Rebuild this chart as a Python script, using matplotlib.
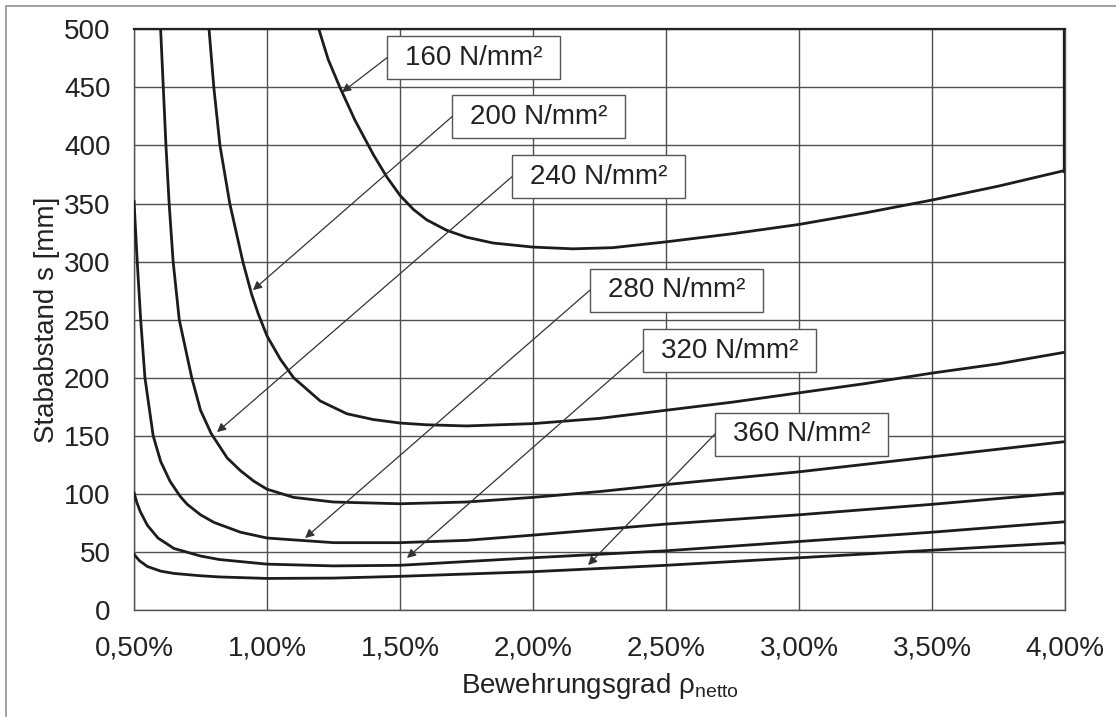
import matplotlib
matplotlib.use("Agg")
import matplotlib.pyplot as plt
from matplotlib.patches import Rectangle

plt.rcParams['font.family'] = ['Liberation Sans', 'DejaVu Sans']
plt.rcParams['mathtext.fontset'] = 'custom'
plt.rcParams['mathtext.rm'] = 'Liberation Sans'

# Stababstand s [mm] over Bewehrungsgrad rho_netto [%]
x_160 = [1.195, 1.23, 1.274, 1.33, 1.40, 1.45, 1.50, 1.55, 1.60, 1.675, 1.75, 1.85, 2.00, 2.15, 2.30, 2.50, 2.75, 3.00, 3.25, 3.50, 3.75, 4.00]
s_160 = [500, 474, 450, 422, 392, 373, 357, 345, 336, 327, 321, 316, 312.5, 311, 312, 317, 324, 332, 342, 353, 365, 378.5]

x_200 = [0.782, 0.80, 0.823, 0.86, 0.909, 0.942, 0.967, 1.00, 1.05, 1.10, 1.20, 1.30, 1.40, 1.50, 1.60, 1.75, 2.00, 2.25, 2.50, 2.75, 3.00, 3.25, 3.50, 3.75, 4.00]
s_200 = [500, 450, 400, 350, 300, 272, 255, 236, 216, 200, 180, 169, 164, 161, 159.5, 158.5, 160.5, 165, 172, 179, 187, 195, 204, 212, 222]

x_240 = [0.60, 0.62, 0.632, 0.647, 0.67, 0.717, 0.75, 0.79, 0.85, 0.90, 0.95, 1.00, 1.10, 1.25, 1.50, 1.75, 2.00, 2.25, 2.50, 3.00, 3.50, 4.00]
s_240 = [500, 400, 350, 300, 250, 200, 172, 152, 131, 120, 111, 104, 97, 93, 91.5, 93, 97, 102, 108, 119, 132, 145]

x_280 = [0.50, 0.512, 0.525, 0.541, 0.572, 0.60, 0.635, 0.673, 0.70, 0.75, 0.80, 0.90, 1.00, 1.25, 1.50, 1.75, 2.00, 2.50, 3.00, 3.50, 4.00]
s_280 = [352, 300, 250, 200, 150, 128, 111, 98, 91, 82, 75.5, 67, 62, 58, 58, 60, 64.5, 74, 82, 91, 101]

x_320 = [0.50, 0.51, 0.523, 0.55, 0.59, 0.65, 0.75, 0.82, 1.00, 1.25, 1.50, 2.00, 2.50, 3.00, 3.50, 4.00]
s_320 = [101, 93, 85, 73, 62, 53, 46.5, 43.5, 39.5, 38, 38.5, 45, 51, 59, 67, 76]

x_360 = [0.50, 0.52, 0.55, 0.60, 0.65, 0.75, 0.82, 1.00, 1.25, 1.50, 2.00, 2.50, 3.00, 3.50, 4.00]
s_360 = [48, 42.5, 37.5, 33.5, 31.5, 29.5, 28.5, 27.2, 27.5, 29, 33, 38.5, 45, 51.5, 58]

series_x = [x_160, x_200, x_240, x_280, x_320, x_360]
series_s = [s_160, s_200, s_240, s_280, s_320, s_360]
labels = ["160 N/mm²", "200 N/mm²", "240 N/mm²", "280 N/mm²", "320 N/mm²", "360 N/mm²"]

x_ticks = [0.5, 1.0, 1.5, 2.0, 2.5, 3.0, 3.5, 4.0]
x_ticklabels = ["0,50%", "1,00%", "1,50%", "2,00%", "2,50%", "3,00%", "3,50%", "4,00%"]
y_ticks = list(range(0, 501, 50))

# label boxes (left edge, vertical centre) and arrow tips, in data units
box_left = [1.451, 1.695, 1.921, 2.214, 2.414, 2.684]
box_cy = [475.5, 424.7, 373.1, 275.4, 223.3, 151.5]
arrow_tip = [(1.282, 445.8), (0.947, 275.4), (0.812, 153.2), (1.143, 62), (1.526, 44.8), (2.207, 38.7)]
box_w, box_h = 0.65, 37

fig = plt.figure(figsize=(11.16, 7.17), dpi=100)
ax = fig.add_axes([0.1201, 0.1492, 0.8342, 0.8099])

grid_c = "#505050"
for xv in x_ticks:
    ax.axvline(xv, color=grid_c, lw=1.0, zorder=1)
for yv in y_ticks:
    ax.axhline(yv, color=grid_c, lw=1.0, zorder=1)

for xs, ss in zip(series_x, series_s):
    ax.plot(xs, ss, color="#1c1c1c", lw=2.0, zorder=3, solid_joinstyle="round")

# closing line at the right edge
ends = [s[-1] for s in series_s]
ax.plot([4.0, 4.0], [min(ends), 500], color="#1c1c1c", lw=2.0, zorder=3)
ax.plot([4.0, 4.0], [max(ends), 500], color="#1c1c1c", lw=3.8, zorder=3)

for lab, bl, cy, tip in zip(labels, box_left, box_cy, arrow_tip):
    ax.add_patch(Rectangle((bl, cy - box_h / 2), box_w, box_h, facecolor="white",
                           edgecolor="#555555", lw=1.0, zorder=4))
    ax.text(bl + box_w / 2, cy, lab, ha="center", va="center", fontsize=20, color="#222222", zorder=5)
    ax.annotate("", xy=tip, xytext=(bl, cy),
                arrowprops=dict(arrowstyle="-|>", color="#333333", lw=0.9,
                                mutation_scale=13, shrinkA=0, shrinkB=0), zorder=4)

ax.set_xlim(0.5, 4.0)
ax.set_ylim(0, 500)
ax.set_xticks(x_ticks)
ax.set_xticklabels(x_ticklabels)
ax.set_yticks(y_ticks)
ax.tick_params(axis="both", length=0, labelsize=20, colors="#222222")
ax.tick_params(axis="x", pad=18)
ax.tick_params(axis="y", pad=17)

for side in ["left", "bottom", "right"]:
    ax.spines[side].set_color(grid_c)
    ax.spines[side].set_linewidth(1.0)
ax.spines["top"].set_color("#222222")
ax.spines["top"].set_linewidth(1.6)

ax.set_xlabel("Bewehrungsgrad ρ$_\\mathregular{netto}$", fontsize=20, color="#222222")
ax.xaxis.set_label_coords(0.5, -0.105)
ax.xaxis.label.set_va("top")
ax.set_ylabel("Stababstand s [mm]", fontsize=20, color="#222222")
ax.yaxis.set_label_coords(-0.08, 0.5)

# outer frame of the figure
fig.patches.append(Rectangle((0.0054, -0.05), 1.2, 0.9916 + 0.05, transform=fig.transFigure,
                             fill=False, edgecolor="#9a9a9a", lw=1.3))

fig.savefig("out.png", dpi=100, facecolor="white")
